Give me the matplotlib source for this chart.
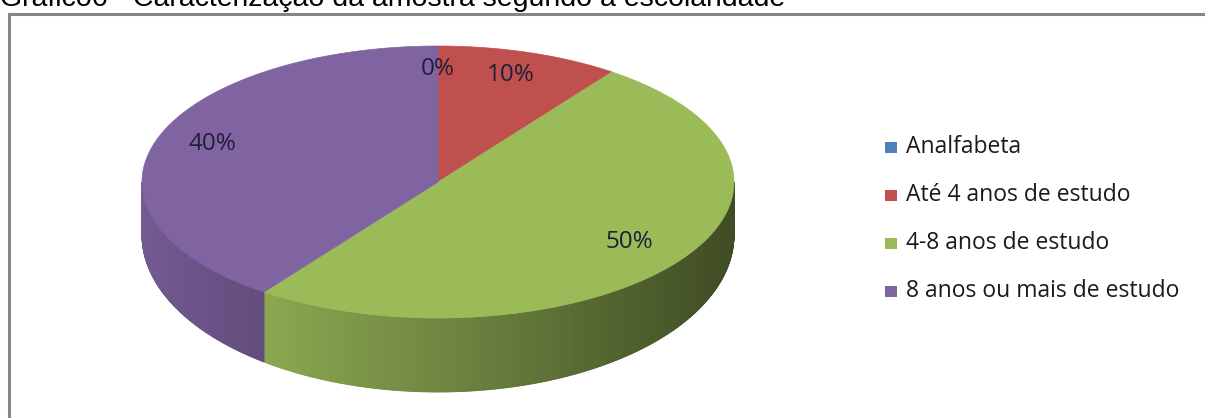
import numpy as np
import matplotlib.pyplot as plt
from matplotlib.patches import Polygon, Rectangle
from matplotlib.lines import Line2D
from matplotlib.colors import to_rgb

# --- data -------------------------------------------------------------
categories = ["Analfabeta", "Até 4 anos de estudo", "4-8 anos de estudo",
              "8 anos ou mais de estudo"]
values = [0, 10, 50, 40]
pct_labels = ["0%", "10%", "50%", "40%"]
colors = ["#4F81BD", "#C0504D", "#9BBB59", "#8064A2"]
title = "Gráfico6 - Caracterização da amostra segundo a escolaridade"

W, H = 1205, 418
fig = plt.figure(figsize=(W / 100, H / 100), dpi=100)
ax = fig.add_axes([0, 0, 1, 1])
ax.set_xlim(0, W)
ax.set_ylim(H, 0)
ax.axis("off")

# pie geometry (pixel space, y down)
cx, cy, rx, ry = 438, 182, 296, 136          # top face ellipse
bcx, bcy, brx, bry = 438, 235, 296, 157      # bottom rim ellipse (perspective)
label_font = "Open Sans"


def top_pt(t):
    return cx + rx * np.cos(t), cy - ry * np.sin(t)


def bot_pt(t):
    return bcx + brx * np.cos(t), bcy - bry * np.sin(t)


total = float(sum(values))
start = np.pi / 2
bounds = []
for v in values:
    end = start - 2 * np.pi * v / total
    bounds.append((start, end))
    start = end

# side walls (front half only), drawn in thin shaded strips
for (a0, a1), col in zip(bounds, colors):
    lo, hi = min(a0, a1), max(a0, a1)
    segs = []
    for shift in (0, -2 * np.pi, 2 * np.pi):
        s0, s1 = lo + shift, hi + shift
        f0, f1 = max(s0, np.pi), min(s1, 2 * np.pi)
        if f1 > f0:
            segs.append((f0, f1))
    base = np.array(to_rgb(col))
    for f0, f1 in segs:
        xl = top_pt(f0)[0]
        n = max(int((f1 - f0) / 0.004), 2)
        ts = np.linspace(f0, f1, n + 1)
        for t0, t1 in zip(ts[:-1], ts[1:]):
            xm = top_pt((t0 + t1) / 2)[0]
            fac = 0.9 - 0.62 * (xm - xl) / (2 * rx)
            c = np.clip(base * fac, 0, 1)
            pts = [top_pt(t0), top_pt(t1), bot_pt(t1), bot_pt(t0)]
            ax.add_patch(Polygon(pts, closed=True, facecolor=c,
                                 edgecolor=c, linewidth=0.6))

# top faces
for (a0, a1), col, v in zip(bounds, colors, values):
    if v == 0:
        continue
    ts = np.linspace(a0, a1, 200)
    pts = [(cx, cy)] + [top_pt(t) for t in ts]
    ax.add_patch(Polygon(pts, closed=True, facecolor=col,
                         edgecolor=col, linewidth=0.5))

# percentage labels
for (a0, a1), lab in zip(bounds, pct_labels):
    mid = (a0 + a1) / 2
    x = cx + 0.8 * rx * np.cos(mid)
    y = cy - 4 - 0.8 * ry * np.sin(mid)
    ax.text(x, y, lab, ha="center", va="center", fontsize=17.5,
            family=label_font, color="#1f1f3a")

# legend
leg_x, leg_y0, leg_dy = 885, 147, 48
for i, (cat, col) in enumerate(zip(categories, colors)):
    y = leg_y0 + i * leg_dy
    ax.add_patch(Rectangle((leg_x, y - 5), 12, 11, facecolor=col,
                           edgecolor="none"))
    ax.text(leg_x + 21, y, cat, ha="left", va="center", fontsize=16.5,
            family=label_font, color="#1a1a1a")

# chart frame (top and left edges)
fig.add_artist(Line2D([8.5 / W, 8.5 / W], [0, 1 - 13.5 / H],
                      transform=fig.transFigure, color="#868686", lw=2.2))
fig.add_artist(Line2D([8.5 / W, 1], [1 - 13.5 / H, 1 - 13.5 / H],
                      transform=fig.transFigure, color="#868686", lw=2.2))

# title, partly above the top edge of the figure
fig.text(0 / W, 1 - 6.5 / H, title, ha="left", va="baseline", fontsize=20.5,
         family="Liberation Sans", color="black")

fig.savefig("out.png", dpi=100)
